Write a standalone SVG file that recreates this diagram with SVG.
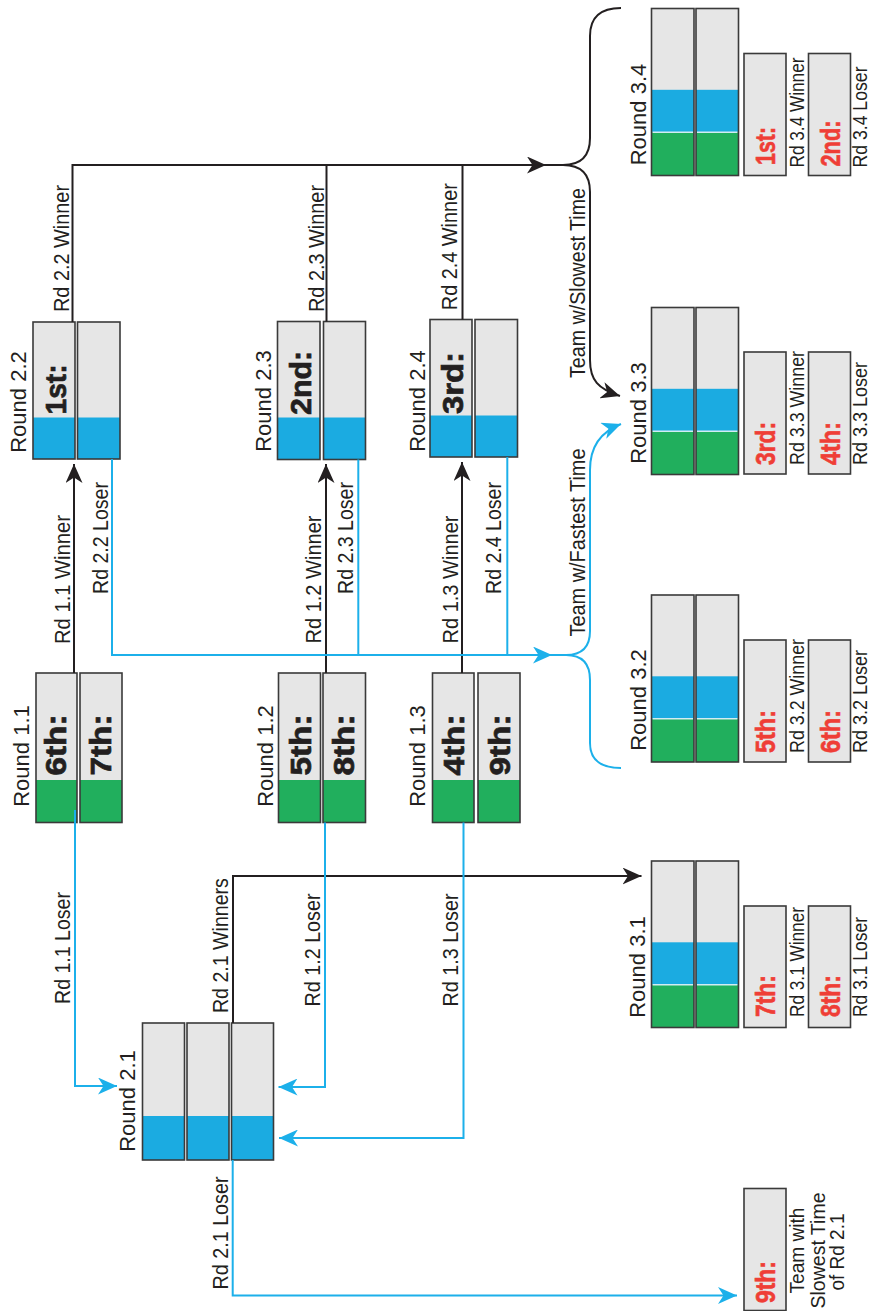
<svg xmlns="http://www.w3.org/2000/svg" width="870" height="1311" viewBox="0 0 870 1311">
<defs>
<style>
.g{fill:#e6e6e6}
.b{fill:#1babe1}
.gr{fill:#21af5d}
.o{fill:none;stroke:#3a3a3a;stroke-width:1.6}
.sep{stroke:#d2ecf3;stroke-width:1.4}
.t{font-family:"Liberation Sans",Arial,Helvetica,sans-serif;fill:#231f20}
.rl{font-size:22px}
.cl{font-size:22.5px}
.rs{font-size:20.5px}
.pl{font-size:30px;font-weight:bold;stroke:#231f20;stroke-width:0.7}
.rd{font-size:28px;font-weight:bold;fill:#ef3e36;stroke:#ef3e36;stroke-width:0.6}
.k{fill:none;stroke:#231f20;stroke-width:2}
.c{fill:none;stroke:#1cb0ea;stroke-width:2}
</style>
<marker id="ak" markerUnits="userSpaceOnUse" viewBox="-19 -8.5 19 17" refX="0" refY="0" markerWidth="19" markerHeight="17" orient="auto"><path d="M0,0 L-19,-8.5 L-13.5,0 L-19,8.5 Z" fill="#231f20"/></marker>
<marker id="ac" markerUnits="userSpaceOnUse" viewBox="-19 -8.5 19 17" refX="0" refY="0" markerWidth="19" markerHeight="17" orient="auto"><path d="M0,0 L-19,-8.5 L-13.5,0 L-19,8.5 Z" fill="#1cb0ea"/></marker>
</defs>
<rect width="870" height="1311" fill="#ffffff"/>

<!-- Round 2.2 -->
<g id="round-2-2">
<rect class="g" x="33" y="322" width="42" height="137"/><rect class="b" x="33" y="417.5" width="42" height="41.5"/><rect class="o" x="33" y="322" width="42" height="137"/>
<rect class="g" x="77.5" y="322" width="42.5" height="137"/><rect class="b" x="77.5" y="417.5" width="42.5" height="41.5"/><rect class="o" x="77.5" y="322" width="42.5" height="137"/>
<text class="t pl" transform="translate(65.8,389.5) rotate(-90)" text-anchor="middle" textLength="50" lengthAdjust="spacingAndGlyphs">1st:</text>
<text class="t rl" transform="translate(26,402) rotate(-90)" text-anchor="middle">Round 2.2</text>
</g>

<!-- Round 2.3 -->
<g id="round-2-3">
<rect class="g" x="277.5" y="321.5" width="42.5" height="138"/><rect class="b" x="277.5" y="417.5" width="42.5" height="42"/><rect class="o" x="277.5" y="321.5" width="42.5" height="138"/>
<rect class="g" x="323.5" y="321.5" width="42" height="138"/><rect class="b" x="323.5" y="417.5" width="42" height="42"/><rect class="o" x="323.5" y="321.5" width="42" height="138"/>
<text class="t pl" transform="translate(310.8,383) rotate(-90)" text-anchor="middle" textLength="64" lengthAdjust="spacingAndGlyphs">2nd:</text>
<text class="t rl" transform="translate(271,401) rotate(-90)" text-anchor="middle">Round 2.3</text>
</g>

<!-- Round 2.4 -->
<g id="round-2-4">
<rect class="g" x="430" y="319.5" width="42" height="137.5"/><rect class="b" x="430" y="415.5" width="42" height="41.5"/><rect class="o" x="430" y="319.5" width="42" height="137.5"/>
<rect class="g" x="475" y="319.5" width="42.5" height="137.5"/><rect class="b" x="475" y="415.5" width="42.5" height="41.5"/><rect class="o" x="475" y="319.5" width="42.5" height="137.5"/>
<text class="t pl" transform="translate(462.8,383) rotate(-90)" text-anchor="middle" textLength="62" lengthAdjust="spacingAndGlyphs">3rd:</text>
<text class="t rl" transform="translate(424.6,401) rotate(-90)" text-anchor="middle">Round 2.4</text>
</g>

<!-- Round 1.1 -->
<g id="round-1-1">
<rect class="g" x="36" y="673" width="41" height="149.5"/><rect class="gr" x="36" y="780" width="41" height="42.5"/><rect class="o" x="36" y="673" width="41" height="149.5"/>
<rect class="g" x="80" y="673" width="42" height="149.5"/><rect class="gr" x="80" y="780" width="42" height="42.5"/><rect class="o" x="80" y="673" width="42" height="149.5"/>
<text class="t pl" transform="translate(65.8,745) rotate(-90)" text-anchor="middle" textLength="61" lengthAdjust="spacingAndGlyphs">6th:</text>
<text class="t pl" transform="translate(110.8,745) rotate(-90)" text-anchor="middle" textLength="61" lengthAdjust="spacingAndGlyphs">7th:</text>
<text class="t rl" transform="translate(29,756) rotate(-90)" text-anchor="middle">Round 1.1</text>
</g>

<!-- Round 1.2 -->
<g id="round-1-2">
<rect class="g" x="278.5" y="673" width="42" height="149.5"/><rect class="gr" x="278.5" y="780" width="42" height="42.5"/><rect class="o" x="278.5" y="673" width="42" height="149.5"/>
<rect class="g" x="323" y="673" width="42.5" height="149.5"/><rect class="gr" x="323" y="780" width="42.5" height="42.5"/><rect class="o" x="323" y="673" width="42.5" height="149.5"/>
<text class="t pl" transform="translate(310.8,745) rotate(-90)" text-anchor="middle" textLength="61" lengthAdjust="spacingAndGlyphs">5th:</text>
<text class="t pl" transform="translate(353.8,745) rotate(-90)" text-anchor="middle" textLength="61" lengthAdjust="spacingAndGlyphs">8th:</text>
<text class="t rl" transform="translate(273,756) rotate(-90)" text-anchor="middle">Round 1.2</text>
</g>

<!-- Round 1.3 -->
<g id="round-1-3">
<rect class="g" x="432.5" y="673" width="41.5" height="149.5"/><rect class="gr" x="432.5" y="780" width="41.5" height="42.5"/><rect class="o" x="432.5" y="673" width="41.5" height="149.5"/>
<rect class="g" x="478" y="673" width="42" height="149.5"/><rect class="gr" x="478" y="780" width="42" height="42.5"/><rect class="o" x="478" y="673" width="42" height="149.5"/>
<text class="t pl" transform="translate(463.8,745) rotate(-90)" text-anchor="middle" textLength="61" lengthAdjust="spacingAndGlyphs">4th:</text>
<text class="t pl" transform="translate(509.8,745) rotate(-90)" text-anchor="middle" textLength="61" lengthAdjust="spacingAndGlyphs">9th:</text>
<text class="t rl" transform="translate(425,756) rotate(-90)" text-anchor="middle">Round 1.3</text>
</g>

<!-- Round 2.1 -->
<g id="round-2-1">
<rect class="g" x="142.5" y="1023" width="42" height="137"/><rect class="b" x="142.5" y="1116" width="42" height="44"/><rect class="o" x="142.5" y="1023" width="42" height="137"/>
<rect class="g" x="187" y="1023" width="42" height="137"/><rect class="b" x="187" y="1116" width="42" height="44"/><rect class="o" x="187" y="1023" width="42" height="137"/>
<rect class="g" x="231.5" y="1023" width="42" height="137"/><rect class="b" x="231.5" y="1116" width="42" height="44"/><rect class="o" x="231.5" y="1023" width="42" height="137"/>
<text class="t rl" transform="translate(135,1101) rotate(-90)" text-anchor="middle">Round 2.1</text>
</g>

<!-- Round 3.4 -->
<g id="round-3-4">
<rect class="g" x="651.5" y="8.5" width="42.5" height="167"/><rect class="b" x="651.5" y="89.8" width="42.5" height="42.4"/><rect class="gr" x="651.5" y="132.2" width="42.5" height="43.3"/><line class="sep" x1="652.5" y1="132.2" x2="693" y2="132.2"/><rect class="o" x="651.5" y="8.5" width="42.5" height="167"/>
<rect class="g" x="696" y="8.5" width="42.5" height="167"/><rect class="b" x="696" y="89.8" width="42.5" height="42.4"/><rect class="gr" x="696" y="132.2" width="42.5" height="43.3"/><line class="sep" x1="697" y1="132.2" x2="737.5" y2="132.2"/><rect class="o" x="696" y="8.5" width="42.5" height="167"/>
<text class="t rl" transform="translate(646,114.5) rotate(-90)" text-anchor="middle">Round 3.4</text>
<rect class="g" x="744" y="53.5" width="42" height="122"/><rect class="o" x="744" y="53.5" width="42" height="122"/>
<rect class="g" x="808.5" y="53.5" width="42" height="122"/><rect class="o" x="808.5" y="53.5" width="42" height="122"/>
<text class="t rd" transform="translate(775,165) rotate(-90)" textLength="38" lengthAdjust="spacingAndGlyphs">1st:</text>
<text class="t rd" transform="translate(840,166.5) rotate(-90)" textLength="46" lengthAdjust="spacingAndGlyphs">2nd:</text>
<text class="t rs" transform="translate(804.4,167.5) rotate(-90)" textLength="110" lengthAdjust="spacingAndGlyphs">Rd 3.4 Winner</text>
<text class="t rs" transform="translate(867.2,167.5) rotate(-90)" textLength="101" lengthAdjust="spacingAndGlyphs">Rd 3.4 Loser</text>
</g>

<!-- Round 3.3 -->
<g id="round-3-3">
<rect class="g" x="651.5" y="307.5" width="42.5" height="167"/><rect class="b" x="651.5" y="388.8" width="42.5" height="42.4"/><rect class="gr" x="651.5" y="431.2" width="42.5" height="43.3"/><line class="sep" x1="652.5" y1="431.2" x2="693" y2="431.2"/><rect class="o" x="651.5" y="307.5" width="42.5" height="167"/>
<rect class="g" x="696" y="307.5" width="42.5" height="167"/><rect class="b" x="696" y="388.8" width="42.5" height="42.4"/><rect class="gr" x="696" y="431.2" width="42.5" height="43.3"/><line class="sep" x1="697" y1="431.2" x2="737.5" y2="431.2"/><rect class="o" x="696" y="307.5" width="42.5" height="167"/>
<text class="t rl" transform="translate(646,413) rotate(-90)" text-anchor="middle">Round 3.3</text>
<rect class="g" x="744" y="352" width="42" height="122"/><rect class="o" x="744" y="352" width="42" height="122"/>
<rect class="g" x="808.5" y="352" width="42" height="122"/><rect class="o" x="808.5" y="352" width="42" height="122"/>
<text class="t rd" transform="translate(775,465) rotate(-90)" textLength="43" lengthAdjust="spacingAndGlyphs">3rd:</text>
<text class="t rd" transform="translate(840,465) rotate(-90)" textLength="43" lengthAdjust="spacingAndGlyphs">4th:</text>
<text class="t rs" transform="translate(804.4,465) rotate(-90)" textLength="114" lengthAdjust="spacingAndGlyphs">Rd 3.3 Winner</text>
<text class="t rs" transform="translate(867.2,465) rotate(-90)" textLength="103" lengthAdjust="spacingAndGlyphs">Rd 3.3 Loser</text>
</g>

<!-- Round 3.2 -->
<g id="round-3-2">
<rect class="g" x="651.5" y="595" width="42.5" height="167"/><rect class="b" x="651.5" y="676.3" width="42.5" height="42.4"/><rect class="gr" x="651.5" y="718.7" width="42.5" height="43.3"/><line class="sep" x1="652.5" y1="718.7" x2="693" y2="718.7"/><rect class="o" x="651.5" y="595" width="42.5" height="167"/>
<rect class="g" x="696" y="595" width="42.5" height="167"/><rect class="b" x="696" y="676.3" width="42.5" height="42.4"/><rect class="gr" x="696" y="718.7" width="42.5" height="43.3"/><line class="sep" x1="697" y1="718.7" x2="737.5" y2="718.7"/><rect class="o" x="696" y="595" width="42.5" height="167"/>
<text class="t rl" transform="translate(646,700) rotate(-90)" text-anchor="middle">Round 3.2</text>
<rect class="g" x="744" y="640" width="42" height="122"/><rect class="o" x="744" y="640" width="42" height="122"/>
<rect class="g" x="808.5" y="640" width="42" height="122"/><rect class="o" x="808.5" y="640" width="42" height="122"/>
<text class="t rd" transform="translate(775,753) rotate(-90)" textLength="43" lengthAdjust="spacingAndGlyphs">5th:</text>
<text class="t rd" transform="translate(840,753) rotate(-90)" textLength="43" lengthAdjust="spacingAndGlyphs">6th:</text>
<text class="t rs" transform="translate(804.4,753) rotate(-90)" textLength="114" lengthAdjust="spacingAndGlyphs">Rd 3.2 Winner</text>
<text class="t rs" transform="translate(867.2,753) rotate(-90)" textLength="103" lengthAdjust="spacingAndGlyphs">Rd 3.2 Loser</text>
</g>

<!-- Round 3.1 -->
<g id="round-3-1">
<rect class="g" x="651.5" y="861" width="42.5" height="166.5"/><rect class="b" x="651.5" y="942.3" width="42.5" height="42.4"/><rect class="gr" x="651.5" y="984.7" width="42.5" height="42.8"/><line class="sep" x1="652.5" y1="984.7" x2="693" y2="984.7"/><rect class="o" x="651.5" y="861" width="42.5" height="166.5"/>
<rect class="g" x="696" y="861" width="42.5" height="166.5"/><rect class="b" x="696" y="942.3" width="42.5" height="42.4"/><rect class="gr" x="696" y="984.7" width="42.5" height="42.8"/><line class="sep" x1="697" y1="984.7" x2="737.5" y2="984.7"/><rect class="o" x="696" y="861" width="42.5" height="166.5"/>
<text class="t rl" transform="translate(645,967) rotate(-90)" text-anchor="middle">Round 3.1</text>
<rect class="g" x="744" y="906" width="42" height="121.5"/><rect class="o" x="744" y="906" width="42" height="121.5"/>
<rect class="g" x="808.5" y="906" width="42" height="121.5"/><rect class="o" x="808.5" y="906" width="42" height="121.5"/>
<text class="t rd" transform="translate(775,1017) rotate(-90)" textLength="42" lengthAdjust="spacingAndGlyphs">7th:</text>
<text class="t rd" transform="translate(840,1017) rotate(-90)" textLength="42" lengthAdjust="spacingAndGlyphs">8th:</text>
<text class="t rs" transform="translate(804.4,1017) rotate(-90)" textLength="110" lengthAdjust="spacingAndGlyphs">Rd 3.1 Winner</text>
<text class="t rs" transform="translate(867.2,1017) rotate(-90)" textLength="100" lengthAdjust="spacingAndGlyphs">Rd 3.1 Loser</text>
</g>

<!-- 9th place -->
<g id="ninth-place">
<rect class="g" x="744" y="1188.5" width="42" height="122"/><rect class="o" x="744" y="1188.5" width="42" height="122"/>
<text class="t rd" transform="translate(775,1303) rotate(-90)" textLength="42" lengthAdjust="spacingAndGlyphs">9th:</text>
<text class="t rs" transform="translate(804,1250.5) rotate(-90)" text-anchor="middle" textLength="86" lengthAdjust="spacingAndGlyphs">Team with</text>
<text class="t rs" transform="translate(825,1250.5) rotate(-90)" text-anchor="middle" textLength="116" lengthAdjust="spacingAndGlyphs">Slowest Time</text>
<text class="t rs" transform="translate(844,1252) rotate(-90)" text-anchor="middle" textLength="77" lengthAdjust="spacingAndGlyphs">of Rd 2.1</text>
</g>

<!-- Connectors -->
<g id="connectors">
<path class="k" d="M74,673 V464" marker-end="url(#ak)"/>
<path class="k" d="M326,673 V464" marker-end="url(#ak)"/>
<path class="k" d="M462,673 V462" marker-end="url(#ak)"/>
<path class="k" d="M72.5,322 V165 H546" marker-end="url(#ak)"/>
<path class="k" d="M326.5,321.5 V165"/>
<path class="k" d="M462.5,319.5 V165"/>
<path class="k" d="M544,165 H563 Q590,165 590,138 V36 Q590,8 621,8"/>
<path class="k" d="M563,165 Q590,165 590,192 V360 C590,380 598,389 620,396" marker-end="url(#ak)"/>
<path class="k" d="M233,1023 V876 H641.5" marker-end="url(#ak)"/>

<path class="c" d="M112,459 V655 H552" marker-end="url(#ac)"/>
<path class="c" d="M358.3,459.5 V655"/>
<path class="c" d="M507.3,457 V655"/>
<path class="c" d="M550,655 H566 Q590,655 590,631 V470 C590,447 600,432 621,424" marker-end="url(#ac)"/>
<path class="c" d="M566,655 Q590,655 590,680 V743 Q590,768 621,768"/>
<path class="c" d="M75,810 V1086 H117" marker-end="url(#ac)"/>
<path class="c" d="M325,822.5 V1087 H278.5" marker-end="url(#ac)"/>
<path class="c" d="M463.5,822.5 V1138 H279" marker-end="url(#ac)"/>
<path class="c" d="M232.7,1160 V1295.5 H737" marker-end="url(#ac)"/>

<text class="t cl" transform="translate(70,579.5) rotate(-90)" text-anchor="middle" textLength="129" lengthAdjust="spacingAndGlyphs">Rd 1.1 Winner</text>
<text class="t cl" transform="translate(108,538) rotate(-90)" text-anchor="middle" textLength="112" lengthAdjust="spacingAndGlyphs">Rd 2.2 Loser</text>
<text class="t cl" transform="translate(321.3,579.5) rotate(-90)" text-anchor="middle" textLength="128" lengthAdjust="spacingAndGlyphs">Rd 1.2 Winner</text>
<text class="t cl" transform="translate(353,538) rotate(-90)" text-anchor="middle" textLength="112" lengthAdjust="spacingAndGlyphs">Rd 2.3 Loser</text>
<text class="t cl" transform="translate(458,579.5) rotate(-90)" text-anchor="middle" textLength="128" lengthAdjust="spacingAndGlyphs">Rd 1.3 Winner</text>
<text class="t cl" transform="translate(501.3,538) rotate(-90)" text-anchor="middle" textLength="112" lengthAdjust="spacingAndGlyphs">Rd 2.4 Loser</text>
<text class="t cl" transform="translate(69.3,248.5) rotate(-90)" text-anchor="middle" textLength="127" lengthAdjust="spacingAndGlyphs">Rd 2.2 Winner</text>
<text class="t cl" transform="translate(324,248.5) rotate(-90)" text-anchor="middle" textLength="127" lengthAdjust="spacingAndGlyphs">Rd 2.3 Winner</text>
<text class="t cl" transform="translate(456.8,246.7) rotate(-90)" text-anchor="middle" textLength="127" lengthAdjust="spacingAndGlyphs">Rd 2.4 Winner</text>
<text class="t cl" transform="translate(584.8,283) rotate(-90)" text-anchor="middle" textLength="190" lengthAdjust="spacingAndGlyphs">Team w/Slowest Time</text>
<text class="t cl" transform="translate(584.8,542.5) rotate(-90)" text-anchor="middle" textLength="188" lengthAdjust="spacingAndGlyphs">Team w/Fastest Time</text>
<text class="t cl" transform="translate(69.8,948) rotate(-90)" text-anchor="middle" textLength="112" lengthAdjust="spacingAndGlyphs">Rd 1.1 Loser</text>
<text class="t cl" transform="translate(228,945.6) rotate(-90)" text-anchor="middle" textLength="135" lengthAdjust="spacingAndGlyphs">Rd 2.1 Winners</text>
<text class="t cl" transform="translate(319.8,950) rotate(-90)" text-anchor="middle" textLength="113" lengthAdjust="spacingAndGlyphs">Rd 1.2 Loser</text>
<text class="t cl" transform="translate(458,950) rotate(-90)" text-anchor="middle" textLength="113" lengthAdjust="spacingAndGlyphs">Rd 1.3 Loser</text>
<text class="t cl" transform="translate(228,1233) rotate(-90)" text-anchor="middle" textLength="113" lengthAdjust="spacingAndGlyphs">Rd 2.1 Loser</text>
</g>
</svg>
